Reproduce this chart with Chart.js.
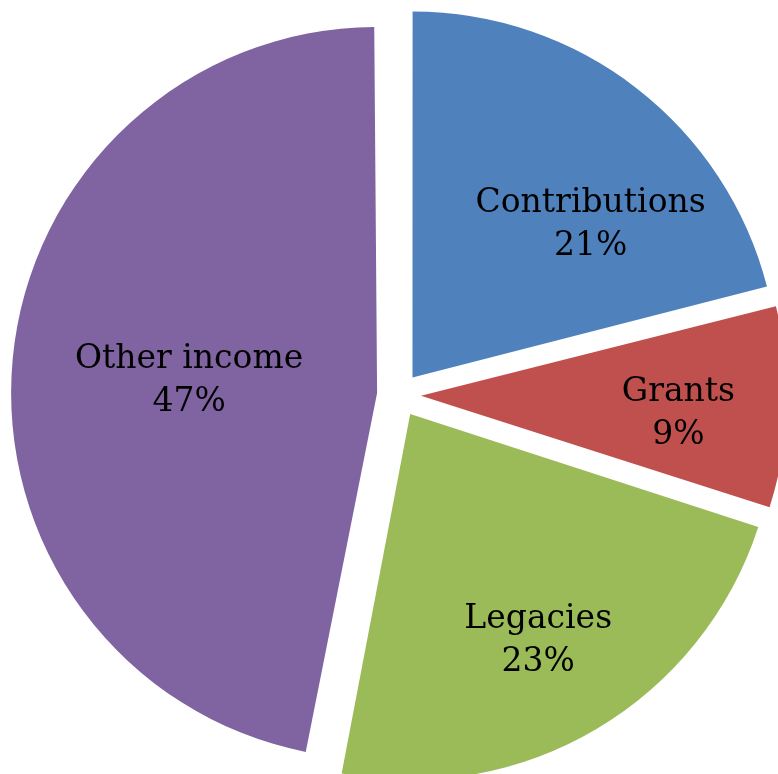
<!DOCTYPE html>
<html>
<head>
<meta charset="utf-8">
<script src="https://cdn.jsdelivr.net/npm/chart.js@4.4.0/dist/chart.umd.min.js"></script>
<style>
  html, body { margin: 0; padding: 0; background: #fff; }
  #wrap { width: 778px; height: 774px; }
</style>
</head>
<body>
<div id="wrap"><canvas id="myChart"></canvas></div>
<script>
const categories = ['Contributions', 'Grants', 'Legacies', 'Other income'];
const shares = [21, 9, 23, 47];
const sliceColors = ['#4F81BD', '#C0504D', '#9BBB59', '#8064A2'];

// where each label sits: fraction of radius, nudge in degrees from slice middle
const labelRadius = [0.70, 0.765, 0.77, 0.575];
const labelNudge = [10.6, 1.9, 1, -1.3];

const pieRadius = 366;
const explode = 22; // px every slice is pulled out

// v4 shifts an arc by offset/4 and also grows its radius by offset/4 * fix,
// shrink it back so all slices keep the same radius
const evenRadius = {
    id: 'evenRadius',
    beforeDatasetsDraw(chart) {
        chart.getDatasetMeta(0).data.forEach(function (arc) {
            const fix = 1 - Math.sin(Math.min(Math.PI, arc.circumference));
            arc.outerRadius = pieRadius - explode * fix;
        });
    }
};

const sliceLabels = {
    id: 'sliceLabels',
    afterDatasetsDraw(chart) {
        const ctx = chart.ctx;
        const meta = chart.getDatasetMeta(0);
        ctx.save();
        ctx.font = '33px "DejaVu Serif"';
        ctx.fillStyle = '#000';
        ctx.textAlign = 'center';
        ctx.textBaseline = 'middle';
        meta.data.forEach(function (arc, i) {
            const mid = (arc.startAngle + arc.endAngle) / 2 + labelNudge[i] * Math.PI / 180;
            const r = pieRadius * labelRadius[i];
            const x = arc.x + Math.cos(mid) * r;
            const y = arc.y + Math.sin(mid) * r;
            ctx.fillText(categories[i], x, y - 21);
            ctx.fillText(shares[i] + '%', x, y + 22);
        });
        ctx.restore();
    }
};

new Chart('myChart', {
    type: 'pie',
    data: {
        labels: categories,
        datasets: [{
            data: shares,
            backgroundColor: sliceColors,
            borderWidth: 0,
            offset: explode * 4
        }]
    },
    options: {
        responsive: true,
        maintainAspectRatio: false,
        animation: false,
        radius: pieRadius,
        layout: {
            padding: { left: 20, top: 16 }
        },
        plugins: {
            legend: { display: false },
            tooltip: { enabled: false }
        }
    },
    plugins: [evenRadius, sliceLabels]
});
</script>
</body>
</html>
